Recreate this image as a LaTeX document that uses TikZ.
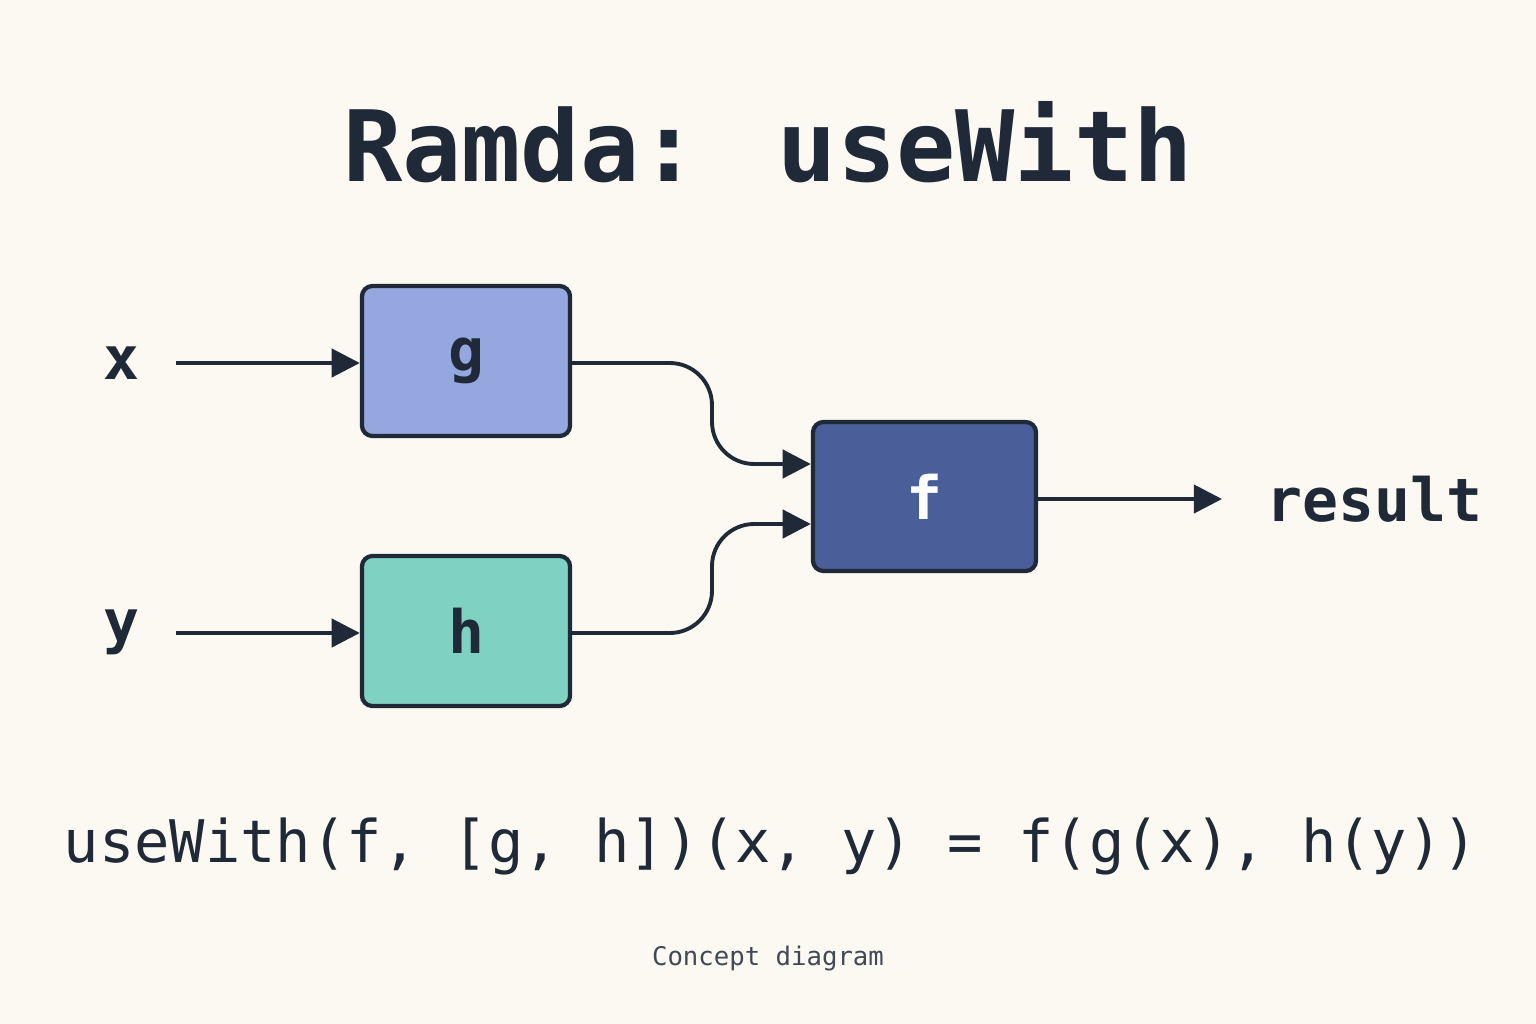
\documentclass[tikz,border=0pt]{standalone}
\usepackage{fontspec}
\setmainfont{DejaVu Sans Mono}
\usetikzlibrary{arrows.meta}
\definecolor{bg}{HTML}{FBF9F2}
\definecolor{ink}{HTML}{1F2937}
\definecolor{gcol}{HTML}{94A7DE}
\definecolor{hcol}{HTML}{7FD1C2}
\definecolor{fcol}{HTML}{4A5F9A}
\begin{document}
\begin{tikzpicture}[x=0.01cm,y=-0.01cm,
  box/.style={draw=ink,line width=1.2pt,rounded corners=3pt,minimum width=2.08cm,minimum height=1.5cm,inner sep=0pt,font=\fontsize{17}{17}\bfseries},
  conn/.style={draw=ink,line width=1.1pt,-{Triangle[length=8pt,width=8pt]}},
  lbl/.style={font=\fontsize{17}{17}\bfseries,text=ink}]
\fill[bg] (0,0) rectangle (1536,1024);
\useasboundingbox (0,0) rectangle (1536,1024);
\node[text=ink,font=\fontsize{28}{28}\bfseries] (title) at (768,142) {Ramda: useWith};
\node[box,fill=gcol,text=ink] (g) at (466,361) {g};
\node[box,fill=hcol,text=ink] (h) at (466,631) {h};
\node[box,fill=fcol,text=white,minimum width=2.23cm,minimum height=1.49cm] (f) at (924.5,496.5) {f};
\node[lbl] (x) at (121,363) {x};
\node[lbl] (y) at (121,632) {y};
\node[lbl,anchor=west,font=\fontsize{17}{17}\selectfont\bfseries] (r) at (1254,499) {result};
\coordinate (xs) at (176,363);
\coordinate (ys) at (176,633);
\draw[conn] (xs) -- (g.west|-xs);
\draw[conn] (ys) -- (h.west|-ys);
\draw[conn,rounded corners=12pt] (g.east|-xs) -- (712,363) -- (712,464) -- (f.west|-0,464);
\draw[conn,rounded corners=12pt] (h.east|-ys) -- (712,633) -- (712,524) -- (f.west|-0,524);
\draw[conn] (f.east|-0,499) -- (1222,499);
\node[text=ink,font=\fontsize{16.7}{17}\selectfont] (eq) at (771,846) {useWith(f, [g, h])(x, y) = f(g(x), h(y))};
\node[text=ink!85,font=\fontsize{7.3}{8}\selectfont] (cap) at (768,958) {Concept diagram};
\end{tikzpicture}
\end{document}
